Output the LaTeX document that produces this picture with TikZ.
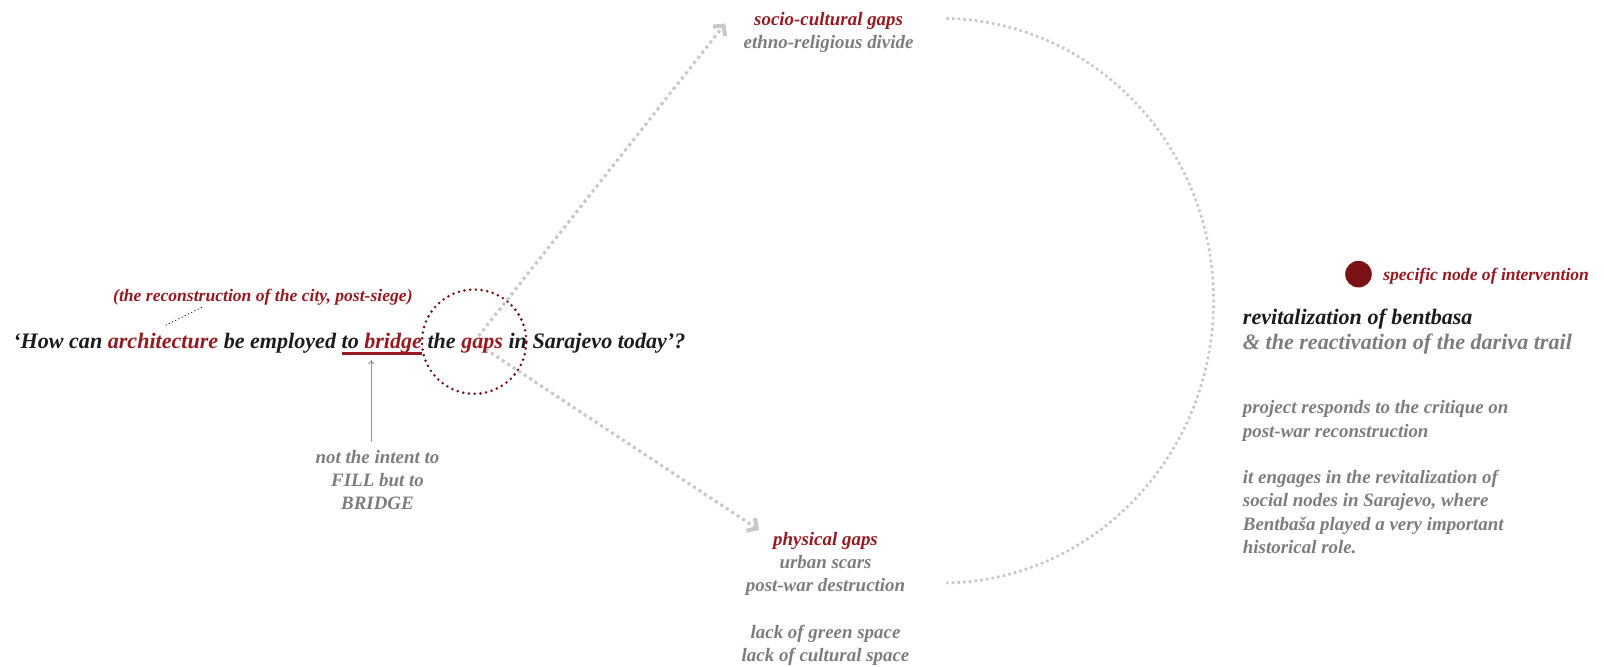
\documentclass[tikz,border=0pt]{standalone}
\usepackage{fontspec}
\setmainfont{Liberation Serif}
\usetikzlibrary{arrows.meta}
\definecolor{dred}{RGB}{150,26,32}
\definecolor{cdot}{RGB}{122,18,22}
\definecolor{tgray}{RGB}{125,125,125}
\definecolor{tblack}{RGB}{28,28,28}
\definecolor{lgray}{RGB}{200,200,200}
\definecolor{agray}{RGB}{150,150,150}
\newcommand\redul[1]{\setbox0\hbox{#1}\rlap{\textcolor{dred}{\rule[-6.5pt]{\wd0}{2.8pt}}}\box0\relax}
\begin{document}
\begin{tikzpicture}[x=1pt,y=-1pt,
  txt/.style={inner sep=0pt, outer sep=0pt},
  fmain/.style={font=\fontsize{21.6}{25}\selectfont\bfseries\itshape},
  fnote/.style={font=\fontsize{17.2}{20}\selectfont\bfseries\itshape},
  fmid/.style={font=\fontsize{18.5}{22.7}\selectfont\bfseries\itshape},
  fhead/.style={font=\fontsize{21.6}{24}\selectfont\bfseries\itshape},
  garrow/.style={draw=lgray, line width=3pt, dash pattern=on 3pt off 3.4pt, shorten <=7pt,
     -{Straight Barb[length=7pt,width=15pt,line width=4pt]}},
  garc/.style={draw=lgray, line width=2.6pt, dash pattern=on 2.6pt off 3pt},
  leader/.style={draw=tblack, line width=0.9pt, dash pattern=on 1pt off 2.5pt},
  thinarrow/.style={draw=agray, line width=1pt, -{To[length=4pt,width=6pt]}},
]
\useasboundingbox (0,0) rectangle (1568,652);

% dotted red circle
\node[circle, draw=cdot, minimum size=102pt, line width=2.8pt, dash pattern=on 0pt off 5.6pt, line cap=round] (gapc) at (463.5,334) {};

% targets
\node[txt, fmid, align=center] (socio) at (810,31.5) {\textcolor{dred}{socio-cultural gaps}\\\textcolor{tgray}{ethno-religious divide}};
\node[txt, fmid, align=center] (phys) at (807,585.5) {\textcolor{dred}{physical gaps}\\\textcolor{tgray}{urban scars}\\\textcolor{tgray}{post-war destruction}\\[22.7pt]\textcolor{tgray}{lack of green space}\\\textcolor{tgray}{lack of cultural space}};
\coordinate (tipA) at (709,23);
\coordinate (tipB) at (742,518);
\draw[garrow] (gapc.center) -- (tipA);
\draw[garrow] (gapc.center) -- (tipB);

% main question
\node[txt, fmain, anchor=base west, text=tblack] (q) at (13,340.5)
  {‘How can \textcolor{dred}{architecture} be employed \redul{to \textcolor{dred}{bridge}} the \textcolor{dred}{gaps} in Sarajevo today’?};

% note above
\node[txt, fnote, text=dred] (note) at (257,291) {(the reconstruction of the city, post-siege)};
\coordinate (ldA) at (162,318);
\coordinate (ldB) at (198,300);
\draw[leader] (ldA) -- (ldB);

% intent note
\node[txt, fmid, text=tgray, align=center] (intent) at (369,469) {not the intent to\\FILL but to\\BRIDGE};
\coordinate (arrS) at (363,432);
\coordinate (arrE) at (363,352);
\draw[thinarrow] (arrS) -- (arrE);

% big arc
\coordinate (arcS) at (925,18);
\draw[garc] (arcS) arc[start angle=-89, end angle=89, x radius=266, y radius=276];

% right side
\node[circle, fill=cdot, minimum size=26pt, inner sep=0pt] (dot) at (1328,268) {};
\node[txt, fnote, text=dred, anchor=west] (spec) at ([xshift=11pt,yshift=-2pt]dot.east) {specific node of intervention};
\node[txt, fhead, anchor=west, align=left] (rev) at (1215,324) {\textcolor{tblack}{revitalization of bentbasa}\\\textcolor{tgray}{\& the reactivation of the dariva trail}};
\node[txt, fmid, anchor=west, align=left, text=tgray] (proj) at (1215,411.5) {project responds to the critique on\\post-war reconstruction};
\node[txt, fmid, anchor=west, align=left, text=tgray] (eng) at (1215,500.5) {it engages in the revitalization of\\social nodes in Sarajevo, where\\Bentbaša played a very important\\historical role.};
\end{tikzpicture}
\end{document}
